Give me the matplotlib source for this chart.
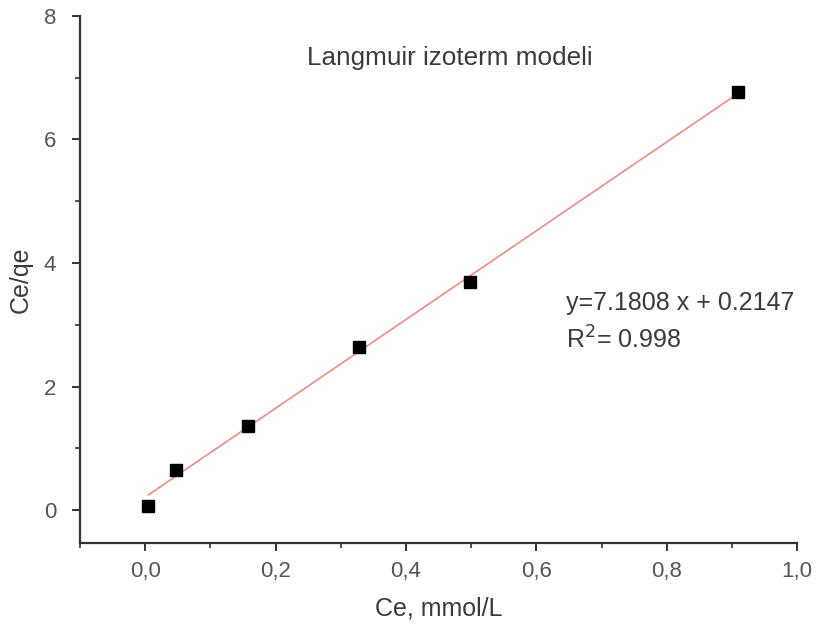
import matplotlib
matplotlib.use("Agg")
import matplotlib.pyplot as plt
import numpy as np
from matplotlib.ticker import MultipleLocator

plt.rcParams["font.family"] = ["Liberation Sans", "DejaVu Sans"]

# data
ce = [0.005, 0.048, 0.157, 0.328, 0.498, 0.909]
ce_qe = [0.07, 0.65, 1.37, 2.64, 3.69, 6.77]
slope = 7.1808
intercept = 0.2147

TEXT_COLOR = "#3a3a3a"
TICK_COLOR = "#555555"

fig = plt.figure(figsize=(8.16, 6.3), dpi=100)
ax = fig.add_axes([0.098, 0.138, 0.879, 0.837])

x_fit = np.array([min(ce), max(ce)])
ax.plot(x_fit, slope * x_fit + intercept, color="#f08a8a", linewidth=1.2, zorder=2)
ax.plot(ce, ce_qe, "s", color="black", markersize=8, zorder=3)

ax.set_xlim(-0.1, 1.0)
ax.set_ylim(-0.53, 8)
ax.xaxis.set_major_locator(MultipleLocator(0.2))
ax.xaxis.set_minor_locator(MultipleLocator(0.1))
ax.yaxis.set_major_locator(MultipleLocator(2))
ax.yaxis.set_minor_locator(MultipleLocator(1))
ax.xaxis.set_major_formatter(lambda v, p: f"{v:.1f}".replace(".", ","))

for side in ["top", "right"]:
    ax.spines[side].set_visible(False)
for side in ["left", "bottom"]:
    ax.spines[side].set_linewidth(1.6)
    ax.spines[side].set_color("#333333")

ax.tick_params(which="major", direction="out", length=6, width=1.4,
               colors="#333333", labelsize=16, labelcolor=TICK_COLOR, pad=7)
ax.tick_params(axis="y", which="major", pad=11)
ax.tick_params(which="minor", direction="out", length=3.5, width=1.2,
               colors="#333333")

ax.set_xlabel("Ce, mmol/L", fontsize=18, color=TEXT_COLOR, labelpad=10)
ax.set_ylabel("Ce/qe", fontsize=18, color=TEXT_COLOR, labelpad=8)

ax.text(0.467, 7.32, "Langmuir izoterm modeli", fontsize=18.8, color=TEXT_COLOR,
        ha="center", va="center")
ax.text(0.646, 3.35, f"y={slope} x + {intercept}", fontsize=18,
        color=TEXT_COLOR, ha="left", va="center")
ax.text(0.646, 2.75, r"R$^2$= 0.998", fontsize=18, color=TEXT_COLOR,
        ha="left", va="center")

plt.savefig("out.png", dpi=100)
